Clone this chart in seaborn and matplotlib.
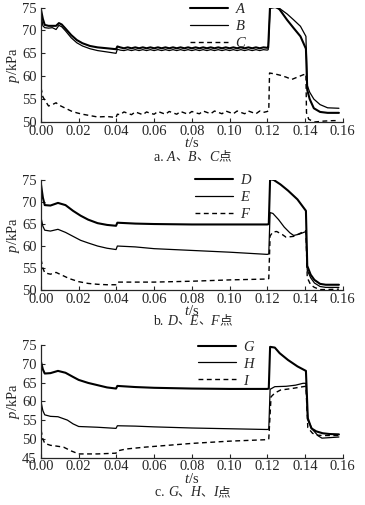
import pandas as pd
import matplotlib
matplotlib.use("Agg")
import matplotlib.pyplot as plt
import seaborn as sns
from matplotlib.offsetbox import TextArea, HPacker, AnchoredOffsetbox

# ---- panel a : points A, B, C ----
t_a_start = [0.000, 0.001, 0.002, 0.004, 0.006, 0.008, 0.0095, 0.011, 0.013, 0.016,
             0.019, 0.022, 0.026, 0.030, 0.035, 0.0398, 0.0405]
t_plateau = [0.042, 0.044, 0.046, 0.048, 0.050, 0.052, 0.054, 0.056, 0.058, 0.060,
             0.062, 0.064, 0.066, 0.068, 0.070, 0.072, 0.074, 0.076, 0.078, 0.080,
             0.082, 0.084, 0.086, 0.088, 0.090, 0.092, 0.094, 0.096, 0.098, 0.100,
             0.102, 0.104, 0.106, 0.108, 0.110, 0.112, 0.114, 0.116, 0.118]
t_ab_end = [0.120, 0.1205, 0.1215, 0.124, 0.1265, 0.1305, 0.134, 0.1376, 0.1405,
            0.1412, 0.1425, 0.1447, 0.148, 0.152, 0.158]
t_c_end = [0.120, 0.1208, 0.1212, 0.124, 0.127, 0.130, 0.133, 0.136, 0.139, 0.1405,
           0.1408, 0.142, 0.145, 0.150, 0.155, 0.158]

p_A_start = [74.5, 72.5, 71.2, 71.0, 71.0, 71.0, 71.6, 71.3, 70.4, 69.0, 67.9, 67.2,
             66.6, 66.3, 66.1, 65.9, 66.5]
p_A_plateau = [66.3, 66.1, 66.3, 66.1, 66.3, 66.1, 66.3, 66.1, 66.3, 66.1, 66.3, 66.1, 66.3,
               66.1, 66.3, 66.1, 66.3, 66.1, 66.3, 66.1, 66.3, 66.1, 66.3, 66.1, 66.3, 66.1,
               66.3, 66.1, 66.3, 66.1, 66.3, 66.1, 66.3, 66.1, 66.3, 66.1, 66.3, 66.1, 66.3]
p_A_end = [66.2, 66.3, 75.5, 75.3, 74.6, 72.3, 70.5, 68.7, 66.0, 57.0, 55.0, 53.0, 52.2,
           52.0, 52.0]

p_B_start = [73.5, 71.0, 70.6, 70.5, 70.6, 70.2, 71.1, 70.8, 69.9, 68.4, 67.3, 66.6,
             66.0, 65.6, 65.3, 65.0, 65.9]
p_B_plateau = [65.7, 65.6, 65.8, 65.6, 65.8, 65.6, 65.8, 65.6, 65.8, 65.6, 65.8, 65.6, 65.8,
               65.6, 65.8, 65.6, 65.8, 65.6, 65.8, 65.6, 65.8, 65.6, 65.8, 65.6, 65.8, 65.6,
               65.8, 65.6, 65.8, 65.6, 65.8, 65.6, 65.8, 65.6, 65.8, 65.6, 65.8, 65.6, 65.8]
p_B_end = [65.7, 65.8, 74.8, 75.0, 74.8, 73.6, 72.3, 70.9, 68.7, 58.0, 56.5, 55.0, 53.8,
           53.1, 53.0]

p_C_start = [57.5, 55.5, 54.8, 53.5, 53.8, 54.2, 53.7, 53.4, 53.0, 52.4, 52.0, 51.7,
             51.4, 51.1, 51.2, 51.0, 51.7]
p_C_plateau = [51.6, 52.2, 51.9, 51.6, 52.2, 51.9, 51.6, 52.2, 51.9, 51.7, 52.3, 52.0, 51.7,
               52.3, 52.0, 51.7, 52.3, 52.0, 51.7, 52.3, 52.0, 51.8, 52.4, 52.1, 51.8, 52.4,
               52.1, 51.8, 52.4, 52.1, 51.8, 52.4, 52.1, 51.8, 52.4, 52.1, 51.8, 52.4, 52.1]
p_C_end = [52.3, 52.5, 60.7, 60.5, 60.2, 59.8, 59.3, 59.8, 60.3, 60.5, 52.0, 50.6, 50.0,
           50.2, 50.3, 50.3]

# ---- panel b : points D, E, F ----
t_D = [0.000, 0.001, 0.002, 0.005, 0.009, 0.013, 0.017, 0.021, 0.025, 0.030, 0.035,
       0.0398, 0.0405, 0.050, 0.060, 0.080, 0.100, 0.120, 0.1208, 0.1215, 0.1235, 0.127,
       0.131, 0.136, 0.1405, 0.1412, 0.143, 0.145, 0.148, 0.151, 0.158]
p_D = [74.0, 71.0, 69.3, 69.2, 69.8, 69.3, 68.0, 66.9, 66.0, 65.2, 64.8, 64.6, 65.3,
       65.1, 65.0, 64.9, 64.9, 64.9, 65.0, 75.2, 75.0, 74.0, 72.6, 70.6, 68.0, 55.5,
       53.5, 52.3, 51.4, 51.2, 51.2]
t_E = [0.000, 0.001, 0.002, 0.005, 0.009, 0.013, 0.017, 0.021, 0.025, 0.030, 0.035,
       0.0398, 0.0405, 0.050, 0.060, 0.080, 0.100, 0.120, 0.1208, 0.1215, 0.123, 0.126,
       0.129, 0.132, 0.134, 0.137, 0.1405, 0.1412, 0.143, 0.145, 0.148, 0.151, 0.158]
p_E = [66.5, 64.5, 63.6, 63.4, 63.8, 63.1, 62.2, 61.3, 60.7, 60.0, 59.5, 59.2, 60.0,
       59.8, 59.4, 59.0, 58.6, 58.1, 58.2, 67.6, 67.4, 66.0, 64.3, 63.0, 62.4, 62.7,
       63.3, 54.5, 52.8, 51.6, 50.8, 50.6, 50.6]
t_F = [0.000, 0.001, 0.002, 0.005, 0.008, 0.011, 0.015, 0.020, 0.025, 0.030, 0.035,
       0.0398, 0.0405, 0.050, 0.060, 0.080, 0.100, 0.120, 0.1208, 0.1215, 0.123, 0.125,
       0.128, 0.130, 0.134, 0.137, 0.1398, 0.1405, 0.1412, 0.143, 0.145, 0.148, 0.151, 0.158]
p_F = [57.0, 55.0, 53.9, 53.6, 54.0, 53.4, 52.6, 51.9, 51.5, 51.3, 51.2, 51.2, 51.8,
       51.8, 51.8, 52.0, 52.3, 52.5, 52.6, 62.3, 63.2, 63.3, 62.6, 62.0, 62.2, 62.8,
       63.4, 63.5, 52.8, 51.2, 50.6, 50.1, 50.1, 50.2]

# ---- panel c : points G, H, I ----
t_G = [0.000, 0.001, 0.002, 0.005, 0.009, 0.013, 0.017, 0.020, 0.025, 0.030, 0.035,
       0.0398, 0.0405, 0.050, 0.060, 0.080, 0.100, 0.120, 0.1208, 0.1215, 0.124, 0.1266,
       0.131, 0.136, 0.1405, 0.1415, 0.1434, 0.146, 0.1494, 0.153, 0.158]
p_G = [70.5, 68.5, 67.4, 67.5, 68.1, 67.6, 66.5, 65.7, 64.9, 64.3, 63.7, 63.4, 64.1,
       63.8, 63.6, 63.4, 63.3, 63.3, 63.4, 74.5, 74.3, 72.8, 71.0, 69.3, 68.1, 55.5,
       52.8, 52.0, 51.5, 51.3, 51.2]
t_H = [0.000, 0.001, 0.002, 0.005, 0.009, 0.014, 0.017, 0.020, 0.030, 0.0398, 0.0405,
       0.050, 0.060, 0.080, 0.100, 0.120, 0.1208, 0.1215, 0.124, 0.130, 0.135, 0.139,
       0.1405, 0.1415, 0.144, 0.147, 0.149, 0.152, 0.158]
p_H = [59.9, 57.5, 56.4, 56.0, 55.9, 55.0, 54.0, 53.3, 53.1, 52.8, 53.5, 53.4, 53.2,
       52.9, 52.7, 52.5, 52.6, 63.2, 63.9, 64.0, 64.3, 64.8, 64.8, 55.0, 52.5, 50.8,
       50.2, 50.3, 50.5]
t_I = [0.000, 0.001, 0.002, 0.005, 0.008, 0.012, 0.016, 0.020, 0.030, 0.0398, 0.0405,
       0.045, 0.055, 0.065, 0.080, 0.100, 0.120, 0.1208, 0.122, 0.124, 0.127, 0.133,
       0.139, 0.1405, 0.1415, 0.144, 0.146, 0.150, 0.158]
p_I = [52.4, 50.0, 48.8, 48.3, 48.1, 47.8, 46.8, 46.0, 46.0, 46.2, 46.8, 47.3, 47.8,
       48.2, 48.8, 49.4, 49.8, 50.0, 61.2, 62.2, 63.0, 63.4, 63.9, 64.0, 53.0, 51.5,
       51.0, 50.9, 50.9]

sns.set_style("ticks")
fams = ['Liberation Serif', 'Noto Sans CJK SC']
plt.rcParams['font.family'] = fams
plt.rcParams['mathtext.fontset'] = 'custom'
plt.rcParams['mathtext.rm'] = 'Liberation Serif'
plt.rcParams['mathtext.it'] = 'Liberation Serif:italic'
plt.rcParams['font.size'] = 10.5

fig = plt.figure(figsize=(3.65, 5.05), dpi=100)


def add_caption(fig, y, prefix, letters):
    # caption such as "a. A、B、C点" with italic point names
    parts = [TextArea(prefix, textprops=dict(family=fams, size=10))]
    for i, let in enumerate(letters):
        parts.append(TextArea(let, textprops=dict(family=fams, size=10, style="italic")))
        sep = "、" if i < len(letters) - 1 else "点"
        parts.append(TextArea(sep, textprops=dict(family=fams, size=9)))
    box = HPacker(children=parts, align="baseline", pad=0, sep=0)
    anc = AnchoredOffsetbox(loc="center", child=box, pad=0, borderpad=0, frameon=False,
                            bbox_to_anchor=(0.527, y), bbox_transform=fig.transFigure)
    fig.add_artist(anc)


panels = [
    {"pos": [0.1123, 0.7584, 0.8266, 0.2267], "ylim": (50, 75), "yt": [50, 55, 60, 65, 70, 75],
     "prefix": "a. ", "cy": 0.689, "leg": (0.494, 1.045),
     "series": [("A", t_a_start + t_plateau + t_ab_end, p_A_start + p_A_plateau + p_A_end),
                ("B", t_a_start + t_plateau + t_ab_end, p_B_start + p_B_plateau + p_B_end),
                ("C", t_a_start + t_plateau + t_c_end, p_C_start + p_C_plateau + p_C_end)]},
    {"pos": [0.1123, 0.4257, 0.8266, 0.2178], "ylim": (50, 75), "yt": [50, 55, 60, 65, 70, 75],
     "prefix": "b. ", "cy": 0.364, "leg": (0.51, 1.064),
     "series": [("D", t_D, p_D), ("E", t_E, p_E), ("F", t_F, p_F)]},
    {"pos": [0.1123, 0.0937, 0.8266, 0.2232], "ylim": (45, 75), "yt": [45, 50, 55, 60, 65, 70, 75],
     "prefix": "c. ", "cy": 0.025, "leg": (0.52, 1.047),
     "series": [("G", t_G, p_G), ("H", t_H, p_H), ("I", t_I, p_I)]},
]

widths = [1.5, 0.9, 1.0]

for pnl in panels:
    ax = fig.add_axes(pnl["pos"])
    for k, (name, tt, pp) in enumerate(pnl["series"]):
        df = pd.DataFrame({"t": tt, "p": pp})
        sns.lineplot(data=df, x="t", y="p", ax=ax, color="black", lw=widths[k],
                     estimator=None, sort=False, label="$%s$" % name)
        if k == 2:
            ax.lines[-1].set_dashes([3.5, 2.5])
    ax.set_xlim(0, 0.16)
    ax.set_ylim(*pnl["ylim"])
    ax.set_xticks([0.00, 0.02, 0.04, 0.06, 0.08, 0.10, 0.12, 0.14, 0.16])
    ax.set_xticklabels(["%.2f" % v for v in ax.get_xticks()])
    ax.set_yticks(pnl["yt"])
    ax.tick_params(direction="in", length=3, width=0.8, pad=2, labelsize=10.5)
    ax.tick_params(axis="y", pad=3)
    sns.despine(ax=ax)
    for s in ["left", "bottom"]:
        ax.spines[s].set_linewidth(0.9)
    ax.set_xlabel("$t$/s", labelpad=-1)
    ax.set_ylabel("$p$/kPa", labelpad=0)
    ax.legend(loc="upper left", bbox_to_anchor=pnl["leg"], frameon=False,
              borderpad=0, borderaxespad=0, handlelength=2.6, handletextpad=0.5,
              labelspacing=0.2, fontsize=10.5)
    add_caption(fig, pnl["cy"], pnl["prefix"], [s[0] for s in pnl["series"]])

fig.savefig("out.png", dpi=100)
